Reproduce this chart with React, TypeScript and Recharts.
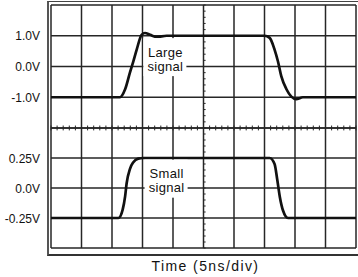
import {
  LineChart,
  Line,
  XAxis,
  YAxis,
  CartesianGrid,
  ReferenceLine,
  ReferenceDot,
} from "recharts";

// grid divisions along time (5ns/div)
const divisions = [0, 1, 2, 3, 4, 5, 6, 7, 8, 9, 10];
const largeTicks = [-2, -1, 0, 1, 2];
const smallTicks = [-0.5, -0.25, 0, 0.25, 0.5];
const largeTickLabels: Record<string, string> = { "1": "1.0V", "0": "0.0V", "-1": "-1.0V" };
const smallTickLabels: Record<string, string> = { "0.25": "0.25V", "0": "0.0V", "-0.25": "-0.25V" };

// large signal trace (time in divisions, volts)
const largeTime = [0, 2.26, 2.43, 2.59, 2.7, 2.81, 2.97, 3.08, 3.25, 3.47, 3.79, 7.0, 7.17, 7.33, 7.44, 7.55, 7.72, 7.88, 8.04, 8.26, 10];
const largeVolts = [-1, -1, -0.74, -0.19, 0.17, 0.55, 1.03, 1.09, 1.03, 0.96, 1.0, 1.0, 0.93, 0.55, 0.17, -0.31, -0.74, -0.98, -1.06, -1.0, -1];

// small signal trace
const smallTime = [0, 2.21, 2.35, 2.43, 2.48, 2.59, 2.7, 2.86, 3.03, 7.17, 7.33, 7.42, 7.5, 7.61, 7.77, 10];
const smallVolts = [-0.25, -0.25, -0.18, -0.07, 0.04, 0.16, 0.215, 0.245, 0.25, 0.25, 0.2, 0.066, -0.07, -0.19, -0.25, -0.25];

const largeData = largeTime.map((t, i) => ({ t, v: largeVolts[i] }));
const smallData = smallTime.map((t, i) => ({ t, v: smallVolts[i] }));

// minor graticule marks (fifth of a division)
const minorX = Array.from({ length: 51 }, (_, i) => i / 5);
const minorLarge = Array.from({ length: 21 }, (_, i) => -2 + i / 5);
const minorSmall = Array.from({ length: 21 }, (_, i) => -0.5 + i / 20);

const FONT = "'Liberation Sans', Arial, sans-serif";
const GRID = "#262626";
const INK = "#111";

function voltTick(labels: Record<string, string>) {
  return (props: any) => {
    const { x, y, payload } = props;
    const text = labels[String(payload.value)];
    if (!text) return <g />;
    return (
      <text x={x} y={y} dy={4.5} textAnchor="end" fontSize={12} fontFamily={FONT} fill={INK}>
        {text}
      </text>
    );
  };
}

function signalLabel(top: string) {
  return (props: any) => {
    const { cx, cy } = props;
    return (
      <g>
        <rect x={cx - 22} y={cy - 21} width={43} height={38} fill="#fff" />
        <text x={cx} y={cy - 2.5} textAnchor="middle" fontSize={13} fontFamily={FONT} fill={INK} letterSpacing={0.3}>
          {top}
        </text>
        <text x={cx} y={cy + 11.5} textAnchor="middle" fontSize={13} fontFamily={FONT} fill={INK} letterSpacing={0.3}>
          signal
        </text>
      </g>
    );
  };
}

export default function App() {
  return (
    <div style={{ position: "absolute", left: 0, top: 0, width: 358, height: 277, background: "#fff", overflow: "hidden" }}>
      {/* outer frame */}
      <div
        style={{
          position: "absolute",
          left: 47,
          top: 1,
          width: 330,
          height: 255,
          boxSizing: "border-box",
          borderTop: "1px solid #444",
          borderLeft: "2px solid #555",
          borderBottom: "2px solid #333",
        }}
      />

      {/* large signal panel */}
      <div style={{ position: "absolute", left: 0, top: 0 }}>
        <LineChart width={358} height={131} margin={{ top: 5, right: 2, bottom: 3, left: 0 }}>
          <CartesianGrid stroke={GRID} strokeWidth={1.5} />
          <XAxis dataKey="t" type="number" domain={[0, 10]} ticks={divisions} hide />
          <YAxis
            type="number"
            domain={[-2, 2]}
            ticks={largeTicks}
            width={51}
            axisLine={false}
            tickLine={false}
            tickMargin={5}
            interval={0}
            tick={voltTick(largeTickLabels)}
          />
          {minorX.map((t) => (
            <ReferenceLine key={"hx" + t} segment={[{ x: t, y: -2 }, { x: t, y: -1.92 }]} stroke={GRID} strokeWidth={1} />
          ))}
          {minorLarge.map((v) => (
            <ReferenceLine key={"vy" + v} segment={[{ x: 5, y: v }, { x: 5.07, y: v }]} stroke={GRID} strokeWidth={1} />
          ))}
          <ReferenceDot x={3.75} y={0.24} r={1} shape={signalLabel("Large")} />
          <Line
            data={largeData}
            dataKey="v"
            type="monotone"
            stroke={INK}
            strokeWidth={2.7}
            dot={false}
            isAnimationActive={false}
          />
        </LineChart>
      </div>

      {/* small signal panel */}
      <div style={{ position: "absolute", left: 0, top: 120 }}>
        <LineChart width={358} height={131} margin={{ top: 8, right: 2, bottom: 3, left: 0 }}>
          <CartesianGrid stroke={GRID} strokeWidth={1.5} />
          <XAxis dataKey="t" type="number" domain={[0, 10]} ticks={divisions} hide />
          <YAxis
            type="number"
            domain={[-0.5, 0.5]}
            ticks={smallTicks}
            width={51}
            axisLine={false}
            tickLine={false}
            tickMargin={5}
            interval={0}
            tick={voltTick(smallTickLabels)}
          />
          {minorX.map((t) => (
            <ReferenceLine key={"hx" + t} segment={[{ x: t, y: 0.5 }, { x: t, y: 0.48 }]} stroke={GRID} strokeWidth={1} />
          ))}
          {minorSmall.map((v) => (
            <ReferenceLine key={"vy" + v} segment={[{ x: 5, y: v }, { x: 5.07, y: v }]} stroke={GRID} strokeWidth={1} />
          ))}
          <ReferenceDot x={3.79} y={0.061} r={1} shape={signalLabel("Small")} />
          <Line
            data={smallData}
            dataKey="v"
            type="monotone"
            stroke={INK}
            strokeWidth={2.7}
            dot={false}
            isAnimationActive={false}
          />
        </LineChart>
      </div>

      {/* time axis caption */}
      <div
        style={{
          position: "absolute",
          left: 53,
          top: 258,
          width: 305,
          textAlign: "center",
          fontFamily: FONT,
          fontSize: 14,
          lineHeight: "16px",
          letterSpacing: 1.4,
          color: INK,
        }}
      >
        Time (5ns/div)
      </div>
    </div>
  );
}
